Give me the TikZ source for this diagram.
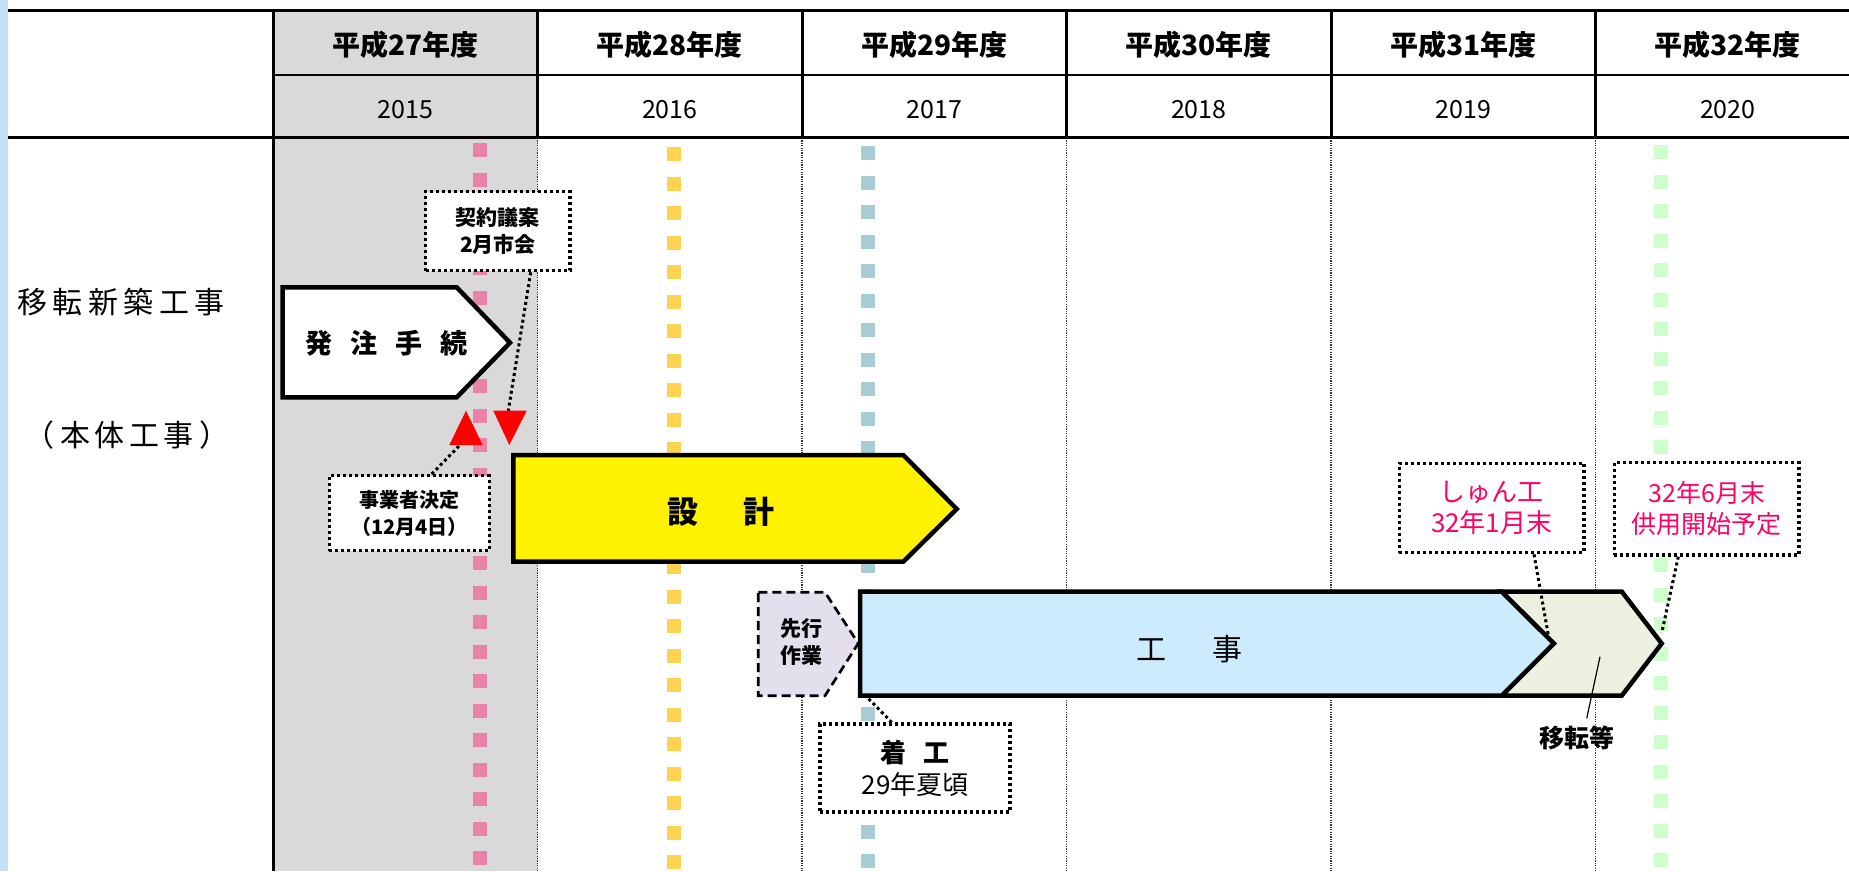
\documentclass[tikz,border=0pt]{standalone}
\usepackage{fontspec}
\setmainfont{Noto Sans CJK JP}
\usetikzlibrary{calc}
\definecolor{stripblue}{RGB}{197,225,248}
\definecolor{colgray}{RGB}{217,217,217}
\definecolor{pinkdash}{RGB}{232,130,168}
\definecolor{yellowdash}{RGB}{255,211,79}
\definecolor{bluedash}{RGB}{168,204,214}
\definecolor{greendash}{RGB}{204,255,204}
\definecolor{koujiblue}{RGB}{204,235,253}
\definecolor{itenolive}{RGB}{235,241,222}
\definecolor{senkoufill}{RGB}{228,223,236}
\definecolor{memopink}{RGB}{255,0,102}
\begin{document}
\begin{tikzpicture}[x=1pt,y=-1pt,
  hdr/.style={font=\fontsize{28}{32}\selectfont\bfseries, inner sep=0},
  yrlbl/.style={font=\fontsize{25}{30}\selectfont, inner sep=0},
  thickline/.style={line width=3pt},
  gridline/.style={line width=1.2pt, black!80, dash pattern=on 1.2pt off 1.2pt},
  colordash/.style={line width=14pt, dash pattern=on 14pt off 15.5pt},
  phase/.style={line width=4.5pt, line join=miter},
  dotbox/.style={draw, fill=white, line width=3.2pt, dash pattern=on 3pt off 3pt, inner sep=0, align=center},
  conn/.style={line width=3pt, dash pattern=on 3pt off 3pt},
  lbl/.style={inner sep=0, align=center}]

\useasboundingbox (0,0) rectangle (1849,871);
\fill[white] (0,0) rectangle (1849,871);
\fill[stripblue] (0,0) rectangle (8,871);
\fill[colgray] (273,10) rectangle (537.5,871);

% body grid (dotted)
\foreach \x in {537.5,802,1066.5,1331,1595.5} \draw[gridline] (\x,138) -- (\x,871);

% header lines
\draw[thickline] (8,10) -- (1849,10);
\draw[thickline] (8,137.3) -- (1849,137.3);
\draw[line width=2pt] (273,75) -- (1849,75);
\draw[thickline] (273,10) -- (273,871);
\foreach \x in {537.5,802,1066.5,1331,1595.5} \draw[thickline] (\x,10) -- (\x,137.3);

% header texts
\foreach \i/\hnum/\yr in {0/27/2015,1/28/2016,2/29/2017,3/30/2018,4/31/2019,5/32/2020}{
  \node[hdr] (hy\i) at ({405.25+264.5*\i},45) {平成{\hnum}年度};
  \node[yrlbl] (yr\i) at ({405.25+264.5*\i},110) {\yr};
}

% row labels
\node[lbl, font=\fontsize{30}{36}\selectfont] (rowa) at (121.2,302.5) {移\kern5.5pt転\kern5.5pt新\kern5.5pt築\kern5.5pt工\kern5.5pt事};
\node[lbl, font=\fontsize{30}{36}\selectfont] (rowb) at (127,435) {（\kern6pt本\kern4.5pt体\kern4.5pt工\kern4.5pt事\kern6pt）};

% coloured milestone lines
\draw[colordash, pinkdash] (480,143) -- (480,871);
\draw[colordash, yellowdash] (674,147) -- (674,871);
\draw[colordash, bluedash] (867.5,146) -- (867.5,871);
\draw[colordash, greendash] (1661,145) -- (1661,871);

% 発注手続
\draw[phase, fill=white] (282.7,287.3) -- (456.7,287.3) -- (510,342.7) -- (456.7,397.3) -- (282.7,397.3) -- cycle;
\node[lbl, font=\fontsize{27}{32}\selectfont\bfseries] (hacchu) at (386.5,343) {発\kern18pt注\kern18pt手\kern18pt続};

% 設計
\draw[phase, fill=yellow] (513.3,455) -- (903.3,455) -- (956.7,509) -- (903.3,561.7) -- (513.3,561.7) -- cycle;
\node[lbl, font=\fontsize{31}{36}\selectfont\bfseries] (sekkei) at (721,512) {設\kern45pt計};

% 先行作業
\draw[line width=2.7pt, dash pattern=on 9pt off 5pt, fill=senkoufill] (758.3,592.3) -- (825,592.3) -- (858.3,643.3) -- (825,695.7) -- (758.3,695.7) -- cycle;
\node[lbl, font=\fontsize{21}{27}\selectfont\bfseries] (senkou) at (801.7,642.5) {先行\\作業};

% 工事 and 移転等
\draw[phase, fill=koujiblue] (860,591.5) -- (1501.7,591.5) -- (1554,643.5) -- (1501.7,695.7) -- (860,695.7) -- cycle;
\draw[phase, fill=itenolive] (1501.7,591.5) -- (1621.7,591.5) -- (1661.7,643.5) -- (1621.7,695.7) -- (1501.7,695.7) -- (1554,643.5) -- cycle;
\node[lbl, font=\fontsize{30}{36}\selectfont] (kouji) at (1189,649) {工\kern46pt事};

\coordinate (koujiBL) at (863,693);
\coordinate (shunNotch) at (1548.3,635);
\coordinate (itenTip) at (1661.7,633);
\coordinate (itenIn) at (1600,656.7);
\coordinate (triUpBase) at (460,445);
\coordinate (triDownTop) at (508.3,410.7);

% callout boxes
\node[dotbox, minimum width=144.3pt, minimum height=79pt, font=\fontsize{21}{27}\selectfont\bfseries] (keiyaku) at (497.9,231.2) {契約議案\\2月市会};
\node[dotbox, minimum width=160pt, minimum height=75pt, font=\fontsize{20}{27}\selectfont\bfseries] (jigyo) at (409.3,513.2) {事業者決定\\（12月4日）};
\node[dotbox, minimum width=190pt, minimum height=88pt, font=\fontsize{26}{32}\selectfont] (chakko) at (915,768) {{\bfseries 着\kern17pt工}\\29年夏頃};
\node[dotbox, minimum width=184.7pt, minimum height=89.4pt, font=\fontsize{26}{31}\selectfont, text=memopink] (shunko) at (1491.7,508) {しゅん工\\32年1月末};
\node[dotbox, minimum width=184.7pt, minimum height=92.3pt, font=\fontsize{25}{31}\selectfont, text=memopink] (kyoyo) at (1706.7,508.9) {32年6月末\\供用開始予定};
\node[lbl, font=\fontsize{25}{30}\selectfont\bfseries] (iten) at (1576.7,738.3) {移転等};

% connectors
\draw[conn] ($(keiyaku.south)+(32.8,0)$) -- (triDownTop);
\draw[conn] ($(jigyo.north)+(22.4,0)$) -- (triUpBase);
\draw[conn] ($(chakko.north)+(-23.3,0)$) -- (koujiBL);
\draw[conn] ($(shunko.south)+(42.3,0)$) -- (shunNotch);
\draw[conn] ($(kyoyo.south)+(-28.4,0)$) -- (itenTip);
\draw[line width=1.2pt] ($(iten.center)+(10,-20)$) -- (itenIn);

% red milestone triangles
\fill[red] (449.3,445) -- (482.7,445) -- (466,410.7) -- cycle;
\fill[red] (493.3,410.7) -- (526.7,410.7) -- (509.3,445) -- cycle;
\end{tikzpicture}
\end{document}
